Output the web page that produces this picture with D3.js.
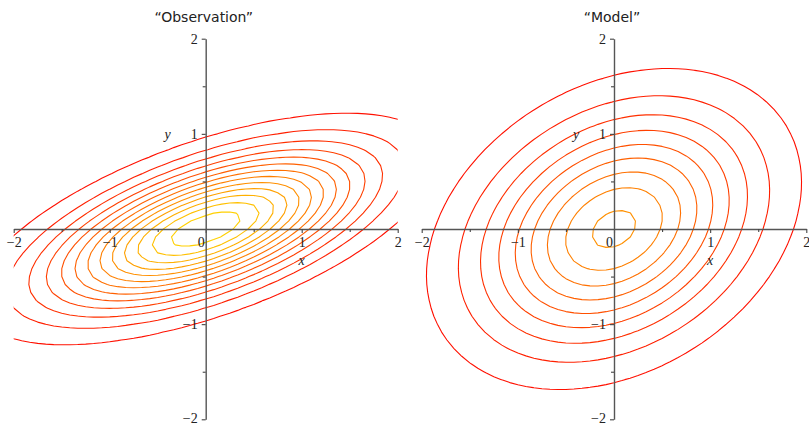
<!DOCTYPE html>
<html><head><meta charset="utf-8">
<script src="https://cdn.jsdelivr.net/npm/d3@7"></script>
<style>body{margin:0;background:#fff} svg{display:block}</style>
</head><body>
<svg id="chart" width="809" height="424"></svg>
<script>
// ---- data ----
const titles = ["\u201cObservation\u201d", "\u201cModel\u201d"];
// Gaussian surface: peak * exp(-(a x^2 + b x y + c y^2)), levels in the same units
const obsPeak = 13.8;
const obsQuadratic = [0.714, -1.729, 2.826];
const obsLevels = [1, 2, 3, 4, 5, 6, 7, 8, 9, 10, 11, 12, 13];
const modelPeak = 9.28;
const modelQuadratic = [0.64, -0.428, 0.855];
const modelLevels = [1, 2, 3, 4, 5, 6, 7, 8, 9];
const xTickValues = [-2, -1, 0, 1, 2];
const xTickLabels = ["\u22122", "\u22121", "0", "1", "2"];
const yTickValues = [-2, -1, 1, 2];
const yTickLabels = ["\u22122", "\u22121", "1", "2"];
const minorTickValues = [-1.5, -0.5, 0.5, 1.5];
const axisDomain = [-2, 2];
const gridPoints = 49;

// ---- layout ----
const svg = d3.select("#chart");
const panels = [
  {title: titles[0], peak: obsPeak, quad: obsQuadratic, levels: obsLevels, x0: 13.7, x1: 397.7},
  {title: titles[1], peak: modelPeak, quad: modelQuadratic, levels: modelLevels, x0: 421.7, x1: 806.3}
];
const yTop = 38.7, yBot = 419.3;
const color = d3.scaleLinear().domain([0, 14]).range(["#ff0000", "#ffe000"]);
const h = (axisDomain[1] - axisDomain[0]) / (gridPoints - 1);
const n = gridPoints + 2;

panels.forEach((p, k) => {
  const xs = d3.scaleLinear().domain(axisDomain).range([p.x0, p.x1]);
  const ys = d3.scaleLinear().domain(axisDomain).range([yBot, yTop]);
  const [a, b, c] = p.quad;
  const values = new Array(n * n);
  for (let j = 0; j < n; j++) {
    for (let i = 0; i < n; i++) {
      const x = axisDomain[0] + (i - 1) * h, y = axisDomain[0] + (j - 1) * h;
      values[j * n + i] = p.peak * Math.exp(-(a * x * x + b * x * y + c * y * y));
    }
  }
  const contours = d3.contours().size([n, n]).thresholds(p.levels).smooth(true)(values);
  const proj = d3.geoTransform({
    point(gx, gy) {
      this.stream.point(xs(axisDomain[0] + (gx - 1.5) * h), ys(axisDomain[0] + (gy - 1.5) * h));
    }
  });
  const path = d3.geoPath(proj);

  const clipId = "clip" + k;
  svg.append("clipPath").attr("id", clipId).append("rect")
    .attr("x", xs(-2)).attr("y", ys(2))
    .attr("width", xs(2) - xs(-2)).attr("height", ys(-2) - ys(2));

  const g = svg.append("g");
  g.append("g").attr("clip-path", `url(#${clipId})`)
    .selectAll("path").data(contours).join("path")
    .attr("d", path)
    .attr("fill", "none")
    .attr("stroke", d => color(d.value))
    .attr("stroke-width", 1.1)
    .attr("stroke-linejoin", "round");

  // x axis
  const xAxisG = g.append("g").attr("transform", `translate(0,${ys(0)})`)
    .call(d3.axisBottom(xs).tickValues(xTickValues)
      .tickFormat((d, i) => xTickLabels[i]).tickSize(4).tickSizeOuter(0).tickPadding(4));
  xAxisG.selectAll("text").filter(d => d === 0).attr("dx", -5);
  g.append("g").attr("transform", `translate(0,${ys(0)})`)
    .call(d3.axisBottom(xs).tickValues(minorTickValues).tickFormat("").tickSize(3))
    .select(".domain").remove();

  // y axis
  const yAxisG = g.append("g").attr("transform", `translate(${xs(0)},0)`)
    .call(d3.axisLeft(ys).tickValues(yTickValues)
      .tickFormat((d, i) => yTickLabels[i]).tickSize(4).tickSizeOuter(0).tickPadding(4));
  yAxisG.selectAll("text").filter(d => d === -2).attr("dy", "0.2em");
  g.append("g").attr("transform", `translate(${xs(0)},0)`)
    .call(d3.axisLeft(ys).tickValues(minorTickValues).tickFormat("").tickSize(3))
    .select(".domain").remove();

  g.selectAll(".domain").attr("stroke", "#555").attr("stroke-width", 1.4);
  g.selectAll(".tick line").attr("stroke", "#444").attr("stroke-width", 1.1);
  g.selectAll(".tick text").attr("fill", "#222")
    .style("font-family", "'Liberation Serif', 'Times New Roman', serif").style("font-size", "14px");

  // axis names
  g.append("text").attr("x", xs(1)).attr("y", ys(0) + 36)
    .attr("text-anchor", "middle").attr("fill", "#222")
    .style("font-family", "'Liberation Serif', serif").style("font-style", "italic").style("font-size", "14px")
    .text("x");
  g.append("text").attr("x", xs(0) - 38).attr("y", ys(1) + 5)
    .attr("text-anchor", "middle").attr("fill", "#222")
    .style("font-family", "'Liberation Serif', serif").style("font-style", "italic").style("font-size", "14px")
    .text("y");

  // title
  g.append("text").attr("x", xs(0) - 2).attr("y", 22)
    .attr("text-anchor", "middle").attr("fill", "#222")
    .style("font-family", "'DejaVu Sans', sans-serif").style("font-size", "14px")
    .text(p.title);
});
</script>
</body></html>
